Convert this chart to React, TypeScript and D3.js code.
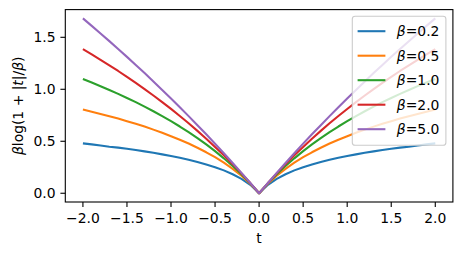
import React from "react";
import * as d3 from "d3";

// t grid, -2 .. 2 in steps of 0.1
const tValues = [
  -2.0, -1.9, -1.8, -1.7, -1.6, -1.5, -1.4, -1.3, -1.2, -1.1, -1.0, -0.9, -0.8, -0.7, -0.6, -0.5, -0.4, -0.3, -0.2, -0.1,
  0.0, 0.1, 0.2, 0.3, 0.4, 0.5, 0.6, 0.7, 0.8, 0.9, 1.0, 1.1, 1.2, 1.3, 1.4, 1.5, 1.6, 1.7, 1.8, 1.9, 2.0,
];

const beta02 = [
  0.480, 0.470, 0.459, 0.448, 0.439, 0.428, 0.416, 0.403, 0.389, 0.374, 0.358, 0.341, 0.322, 0.301, 0.277, 0.251, 0.220, 0.183, 0.139, 0.081,
  0.0, 0.081, 0.139, 0.183, 0.220, 0.251, 0.277, 0.301, 0.322, 0.341, 0.358, 0.374, 0.389, 0.403, 0.416, 0.428, 0.439, 0.448, 0.459, 0.470, 0.480,
];
const beta05 = [
  0.805, 0.784, 0.763, 0.741, 0.718, 0.693, 0.668, 0.641, 0.612, 0.582, 0.549, 0.515, 0.478, 0.438, 0.394, 0.347, 0.294, 0.235, 0.168, 0.091,
  0.0, 0.091, 0.168, 0.235, 0.294, 0.347, 0.394, 0.438, 0.478, 0.515, 0.549, 0.582, 0.612, 0.641, 0.668, 0.693, 0.718, 0.741, 0.763, 0.784, 0.805,
];
const beta10 = [
  1.099, 1.065, 1.030, 0.993, 0.956, 0.916, 0.876, 0.833, 0.789, 0.742, 0.693, 0.642, 0.588, 0.531, 0.470, 0.405, 0.336, 0.262, 0.182, 0.095,
  0.0, 0.095, 0.182, 0.262, 0.336, 0.405, 0.470, 0.531, 0.588, 0.642, 0.693, 0.742, 0.789, 0.833, 0.876, 0.916, 0.956, 0.993, 1.030, 1.065, 1.099,
];
const beta20 = [
  1.386, 1.336, 1.284, 1.230, 1.176, 1.119, 1.061, 1.002, 0.940, 0.877, 0.811, 0.743, 0.673, 0.600, 0.525, 0.446, 0.365, 0.280, 0.191, 0.098,
  0.0, 0.098, 0.191, 0.280, 0.365, 0.446, 0.525, 0.600, 0.673, 0.743, 0.811, 0.877, 0.940, 1.002, 1.061, 1.119, 1.176, 1.230, 1.284, 1.336, 1.386,
];
const beta50 = [
  1.682, 1.610, 1.537, 1.463, 1.388, 1.312, 1.234, 1.156, 1.076, 0.994, 0.912, 0.828, 0.742, 0.655, 0.567, 0.477, 0.385, 0.291, 0.196, 0.099,
  0.0, 0.099, 0.196, 0.291, 0.385, 0.477, 0.567, 0.655, 0.742, 0.828, 0.912, 0.994, 1.076, 1.156, 1.234, 1.312, 1.388, 1.463, 1.537, 1.610, 1.682,
];

const seriesLabels = ["0.2", "0.5", "1.0", "2.0", "5.0"];
const seriesValues = [beta02, beta05, beta10, beta20, beta50];
const colors = ["#1f77b4", "#ff7f0e", "#2ca02c", "#d62728", "#9467bd"];

const xTicks = [-2.0, -1.5, -1.0, -0.5, 0.0, 0.5, 1.0, 1.5, 2.0];
const yTicks = [0.0, 0.5, 1.0, 1.5];

const W = 462;
const H = 255;
const FS = 13.9;
const FONT = "DejaVu Sans, sans-serif";

export default function App() {
  const left = 65.3;
  const right = 452.9;
  const top = 9.6;
  const bottom = 202;

  const x = d3.scaleLinear().domain([-2.2, 2.2]).range([left, right]);
  const y = d3.scaleLinear().domain([-0.0841, 1.7665]).range([bottom, top]);
  const fmt = (v: number) => d3.format(".1f")(v).replace("-", "\u2212");

  const line = d3
    .line<number>()
    .x((_, i) => x(tValues[i]))
    .y((d) => y(d));

  const legX = 352.3;
  const legY = 16.2;
  const legW = 93.6;
  const legH = 129;
  const rowY = (i: number) => legY + 15 + i * 24.5;

  return (
    <svg width={W} height={H} style={{ position: "absolute", left: 0, top: 0 }} fontFamily={FONT}>
      <rect width={W} height={H} fill="#fff" />
      <defs>
        <clipPath id="plotclip">
          <rect x={left} y={top} width={right - left} height={bottom - top} />
        </clipPath>
      </defs>
      <g clipPath="url(#plotclip)" fill="none" strokeWidth={2.08} strokeLinejoin="round" strokeLinecap="butt">
        {seriesValues.map((vals, k) => (
          <path key={k} d={line(vals) || ""} stroke={colors[k]} />
        ))}
      </g>
      <rect x={left} y={top} width={right - left} height={bottom - top} fill="none" stroke="#000" strokeWidth={1.1} />
      {xTicks.map((t) => (
        <g key={"x" + t}>
          <line x1={x(t)} x2={x(t)} y1={bottom} y2={bottom + 4.9} stroke="#000" strokeWidth={1.1} />
          <text x={x(t)} y={bottom + 20.5} textAnchor="middle" fontSize={FS} fill="#000">
            {fmt(t)}
          </text>
        </g>
      ))}
      {yTicks.map((t) => (
        <g key={"y" + t}>
          <line x1={left - 4.9} x2={left} y1={y(t)} y2={y(t)} stroke="#000" strokeWidth={1.1} />
          <text x={left - 9.8} y={y(t) + 5} textAnchor="end" fontSize={FS} fill="#000">
            {fmt(t)}
          </text>
        </g>
      ))}
      <text x={x(0)} y={243} textAnchor="middle" fontSize={FS} fill="#000">
        t
      </text>
      <text
        transform={`translate(22.5, ${(top + bottom) / 2}) rotate(-90)`}
        textAnchor="middle"
        fontSize={FS}
        fill="#000"
      >
        <tspan fontStyle="italic">β</tspan>
        <tspan>log(1 + |</tspan>
        <tspan fontStyle="italic">t</tspan>
        <tspan>|/</tspan>
        <tspan fontStyle="italic">β</tspan>
        <tspan>)</tspan>
      </text>
      <rect x={legX} y={legY} width={legW} height={legH} rx={2.8} fill="#fff" fillOpacity={0.8} stroke="#cccccc" strokeWidth={1.1} />
      {seriesLabels.map((lab, i) => (
        <g key={lab}>
          <line x1={legX + 5.3} x2={legX + 33.1} y1={rowY(i)} y2={rowY(i)} stroke={colors[i]} strokeWidth={2.08} />
          <text x={legX + 44.5} y={rowY(i) + 5} fontSize={FS} fill="#000">
            <tspan fontStyle="italic">β</tspan>
            <tspan>={lab}</tspan>
          </text>
        </g>
      ))}
    </svg>
  );
}
